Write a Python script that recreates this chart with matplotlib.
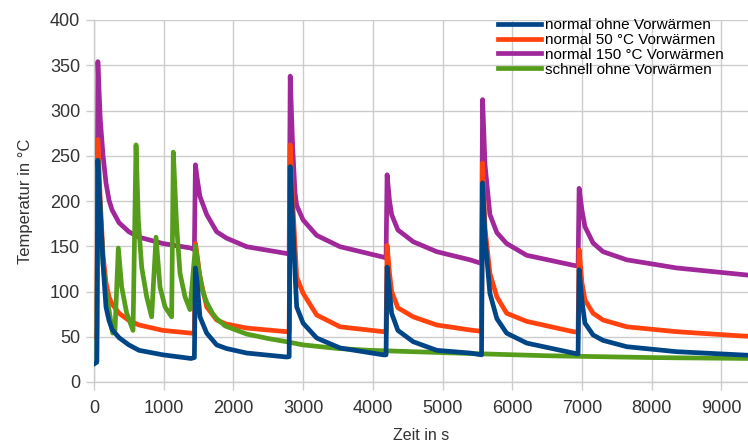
#!/usr/bin/env python3
"""
Temperature curves for normal / fast cycles with and without preheating.
"""

import matplotlib
matplotlib.use("Agg")
import matplotlib.pyplot as plt

# ---- data (time in s, temperature in degC) ----
t_normal = [0, 40, 55, 90, 130, 172, 215, 260, 359, 500, 646, 990, 1392,
            1440, 1455, 1480, 1520, 1617, 1760, 1900, 2190, 2764,
            2800, 2815, 2850, 2884, 2908, 3000, 3195, 3530, 4150,
            4190, 4205, 4240, 4270, 4360, 4580, 4917, 5394,
            5560, 5575, 5610, 5680, 5780, 5920, 6208, 6875,
            6945, 6960, 7000, 7044, 7160, 7303, 7643, 8360, 9268, 9400]

T_blue = [20, 22, 245, 190, 130, 83, 68, 58, 49, 41, 35, 30, 26,
          27, 126, 110, 72, 54, 41, 37, 32, 27.6,
          28, 238, 180, 120, 83, 65, 48.6, 37.6, 30,
          30, 127, 100, 76, 57, 44.5, 35, 32,
          30, 220, 160, 98, 70, 54, 43, 32,
          31, 124, 90, 65, 52, 46, 39, 33.5, 30, 29.5]

T_orange = [50, 52, 268, 200, 140, 110, 94, 86, 76, 68, 63, 57, 54,
            54, 153, 140, 116, 83, 68.5, 64, 59.6, 55.6,
            55, 262, 200, 150, 116, 98, 74, 61, 55.6,
            55, 151, 120, 100, 82, 72, 63, 57.5,
            56, 242, 170, 120, 94, 76, 67, 55.6,
            55, 146, 110, 90.6, 76, 68.5, 61, 55.6, 51, 50.5]

T_purple = [150, 140, 354, 290, 250, 220, 201, 190, 176, 166, 160, 153, 148,
            146, 240, 225, 205, 185, 166, 159, 149.5, 142,
            141, 338, 260, 209, 195, 179, 162, 149.5, 138,
            137, 229, 200, 185, 168, 155, 144, 135,
            131, 312, 240, 185, 165, 153, 140, 129,
            128, 214, 190, 171.6, 153.6, 144, 135, 126, 119, 118]

t_fast = [0, 40, 55, 90, 130, 172, 215, 268, 301, 349, 397, 469, 560,
          603, 636, 684, 756, 827, 890, 947, 1019, 1114, 1138,
          1186, 1234, 1306, 1377, 1455, 1500, 1560, 1617, 1700, 1760,
          1880, 2190, 2500, 2764, 3000, 3500, 3960, 5394, 6500, 8000, 9400]

T_green = [20, 22, 245, 190, 130, 100, 80, 54, 57, 148, 105, 76, 57,
           262, 179, 127, 94, 72, 160, 105, 83, 72, 254,
           172, 120, 94, 80, 150, 125, 100, 88, 76, 70,
           62, 53, 48, 44.5, 41, 37, 35, 31.5, 29, 27, 26]

labels = ["normal ohne Vorwärmen", "normal 50 °C Vorwärmen",
          "normal 150 °C Vorwärmen", "schnell ohne Vorwärmen"]
colors = ["#004586", "#ff420e", "#a0289a", "#579d1c"]

plt.rcParams['font.family'] = ['Liberation Sans', 'DejaVu Sans']

fig = plt.figure(figsize=(7.48, 4.47), dpi=100)
ax = fig.add_axes([94 / 748, 65 / 447, 1 - 94 / 748, 362 / 447])

lw = 3.4
l_blue, = ax.plot(t_normal, T_blue, color=colors[0], lw=lw, zorder=5,
                  label=labels[0], solid_joinstyle="round")
l_orange, = ax.plot(t_normal, T_orange, color=colors[1], lw=lw, zorder=3,
                    label=labels[1], solid_joinstyle="round")
l_purple, = ax.plot(t_normal, T_purple, color=colors[2], lw=lw, zorder=2,
                    label=labels[2], solid_joinstyle="round")
l_green, = ax.plot(t_fast, T_green, color=colors[3], lw=lw, zorder=4,
                   label=labels[3], solid_joinstyle="round")

ax.set_xlim(0, 9383)
ax.set_ylim(0, 400)
ax.set_xticks(range(0, 9001, 1000))
ax.set_yticks(range(0, 401, 50))

grid_c = "#cccccc"
ax.grid(True, color=grid_c, lw=1.0, zorder=0)
ax.set_axisbelow(True)
for side in ["top", "right"]:
    ax.spines[side].set_visible(False)
for side in ["left", "bottom"]:
    ax.spines[side].set_color(grid_c)
    ax.spines[side].set_linewidth(1.0)
ax.tick_params(axis="both", colors=grid_c, length=6, width=1.0,
               labelcolor="#333333", labelsize=13)
ax.tick_params(axis="x", pad=7)
ax.tick_params(axis="y", pad=4)

ax.set_xlabel("Zeit in s", fontsize=11.5, color="#333333", labelpad=8)
ax.set_ylabel("Temperatur in °C", fontsize=12, color="#333333", labelpad=12)

ax.legend(handles=[l_blue, l_orange, l_purple, l_green],
          loc="upper right", bbox_to_anchor=(0.977, 1.03), frameon=False,
          fontsize=11, handlelength=2.8, handletextpad=0.25,
          labelspacing=0.05, borderaxespad=0.2)

fig.savefig("out.png", dpi=100)
